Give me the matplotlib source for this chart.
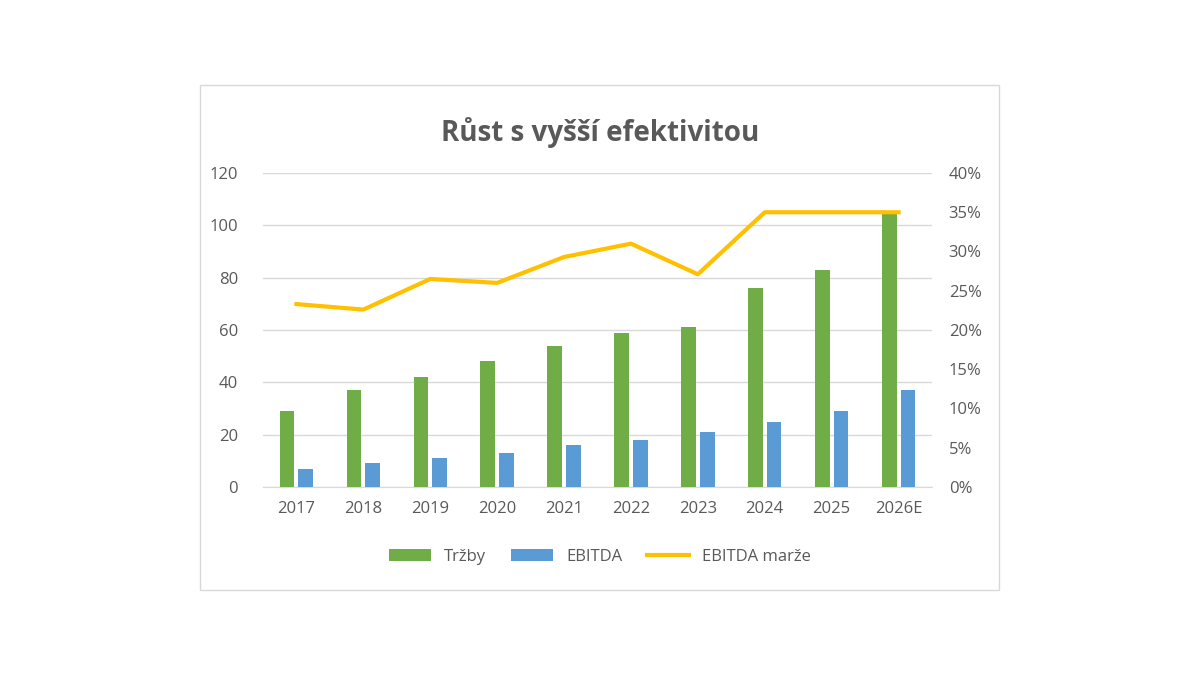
import matplotlib
matplotlib.use("Agg")
import matplotlib.pyplot as plt
import numpy as np
from matplotlib.patches import Rectangle
from matplotlib.ticker import FuncFormatter

years = ["2017","2018","2019","2020","2021","2022","2023","2024","2025","2026E"]
trzby = [29, 37, 42, 48, 54, 59, 61, 76, 83, 105]
ebitda = [7, 9, 11, 13, 16, 18, 21, 25, 29, 37]
marze = [23.3, 22.6, 26.5, 26.0, 29.3, 31.0, 27.1, 35.0, 35.0, 35.0]

plt.rcParams['font.family'] = ['Open Sans', 'DejaVu Sans']
fig = plt.figure(figsize=(12, 6.75), dpi=100)
fig.patches.append(Rectangle((200/1200, 1-590/675), 799/1200, 505/675, transform=fig.transFigure,
                             fill=False, edgecolor="#D9D9D9", lw=1))
ax = fig.add_axes([263/1200, 1-487/675, 669/1200, 314/675])
x = np.arange(len(years))
w = 0.22
gray = "#595959"
ax.bar(x - 0.14, trzby, w, color="#70AD47", label="Tržby", zorder=3)
ax.bar(x + 0.14, ebitda, w, color="#5B9BD5", label="EBITDA", zorder=3)
ax.set_ylim(0, 120)
ax.set_yticks(range(0, 121, 20))
ax.set_xlim(-0.5, len(years) - 0.5)
ax.set_xticks(x)
ax.set_xticklabels(years)
ax.grid(axis="y", color="#D9D9D9", lw=1, zorder=0)
for s in ax.spines.values():
    s.set_visible(False)
ax.spines["bottom"].set_visible(True)
ax.spines["bottom"].set_color("#D9D9D9")
ax.tick_params(length=0, labelsize=12, colors=gray, pad=10)
ax.tick_params(axis="y", pad=18)

ax2 = ax.twinx()
ax2.plot(x, marze, color="#FFC000", lw=3, label="EBITDA marže", zorder=4)
ax2.set_ylim(0, 40)
ax2.set_yticks(range(0, 41, 5))
ax2.yaxis.set_major_formatter(FuncFormatter(lambda v, p: f"{int(v)}%"))
for s in ax2.spines.values():
    s.set_visible(False)
ax2.tick_params(length=0, labelsize=12, colors=gray, pad=12)

fig.text(0.5, 1-133/675, "Růst s vyšší efektivitou", ha="center", va="center",
         fontsize=20, fontweight="bold", color=gray)
h1, l1 = ax.get_legend_handles_labels()
h2, l2 = ax2.get_legend_handles_labels()
fig.legend(h1 + h2, l1 + l2, loc="center", bbox_to_anchor=(0.5, 1-557/675), ncol=3,
           frameon=False, fontsize=12, labelcolor=gray, handlelength=2.5, columnspacing=1.5)
fig.savefig("out.png", dpi=100)
